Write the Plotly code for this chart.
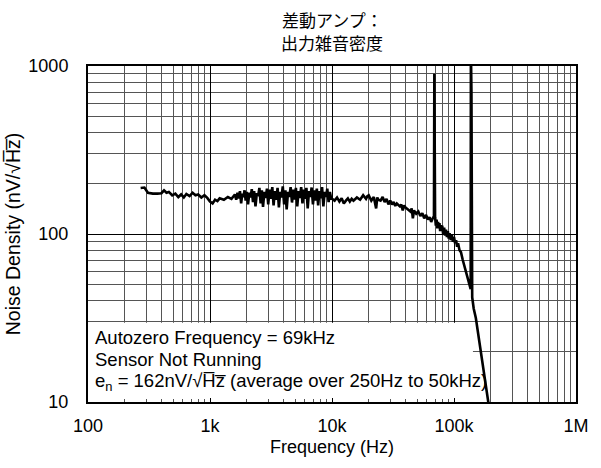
import plotly.graph_objects as go

# Output-referred noise density of the differential amplifier (autozero at 69 kHz),
# split into frequency bands so each stretch of the sweep is easy to edit.

# 270 Hz - 1.5 kHz: low-frequency shelf
freq_low = [270, 290, 310, 340, 370, 400, 420, 440, 460, 490, 520, 550, 580, 610, 640,
            680, 720, 760, 800, 850, 900, 950, 1000, 1050, 1100, 1150, 1200, 1300, 1400, 1500]
noise_low = [188, 189, 176, 174, 174, 175, 182, 176, 178, 170, 174, 166, 172, 165, 173,
             168, 176, 170, 172, 165, 170, 164, 156, 152, 160, 157, 163, 160, 166, 162]

# 1.6 kHz - 10 kHz: densely spiky band
freq_band = [1600, 1640, 1680, 1720, 1760, 1800, 1840, 1880, 1920, 1960,
             2000, 2050, 2100, 2150, 2200, 2250, 2300, 2360, 2420, 2480,
             2540, 2600, 2660, 2720, 2790, 2860, 2930, 3000, 3080, 3160,
             3240, 3320, 3400, 3490, 3580, 3670, 3760, 3850, 3950, 4050,
             4150, 4250, 4360, 4470, 4580, 4700, 4820, 4940, 5060, 5190,
             5320, 5450, 5590, 5730, 5870, 6020, 6170, 6320, 6480, 6640,
             6810, 6980, 7150, 7330, 7510, 7700, 7890, 8090, 8290, 8500,
             8710, 8930, 9150, 9380, 9610, 9850]
noise_band = [172, 160, 176, 163, 180, 152, 174, 166, 182, 158,
              178, 150, 176, 165, 185, 155, 180, 146, 175, 168,
              188, 152, 182, 145, 178, 164, 186, 150, 184, 162,
              190, 148, 180, 160, 188, 144, 178, 165, 192, 150,
              182, 140, 178, 166, 190, 154, 184, 160, 188, 146,
              180, 164, 190, 152, 184, 162, 188, 142, 180, 166,
              189, 150, 182, 158, 186, 148, 180, 163, 190, 146,
              178, 166, 186, 155, 178, 162]

# 10 kHz - 69.5 kHz: gentle roll-off and the autozero spur at 69 kHz
freq_mid = [10000, 10500, 11000, 11500, 12000, 12500, 13000, 13500, 14000, 14500,
            15000, 16000, 17000, 18000, 19000, 19500, 20000, 21000, 22000, 23000,
            23500, 24000, 25000, 26000, 27000, 28000, 29000, 30000, 31000, 32000,
            33000, 34000, 36000, 37000, 38000, 39000, 40000, 42000, 44000, 45000,
            46000, 47000, 49000, 51000, 53000, 55000, 57000, 59000, 61000, 63000,
            65000, 67000, 68500, 69000, 69500]
noise_mid = [162, 158, 165, 156, 163, 152, 158, 163, 156, 162,
             158, 165, 160, 170, 162, 168, 170, 158, 166, 142,
             165, 160, 158, 166, 155, 162, 150, 158, 150, 155,
             147, 152, 146, 150, 138, 148, 144, 140, 136, 142,
             124, 138, 132, 136, 128, 133, 124, 130, 122, 126,
             118, 124, 128, 900, 130]

# 70 kHz - 196 kHz: steep roll-off with the 138 kHz spur
freq_high = [70000, 71000, 72000, 73000, 74000, 75000, 76000, 77000, 78000, 79000,
             80000, 81500, 83000, 84500, 86000, 87500, 89000, 90500, 92000, 94000,
             96000, 98000, 100000, 102000, 104000, 106000, 108000, 111000, 114000, 118000,
             122000, 126000, 130000, 134000, 137000, 137500, 139000, 141000, 145000, 151000,
             160000, 170000, 180000, 190000, 196000]
noise_high = [126, 112, 122, 108, 118, 110, 116, 104, 113, 106,
              112, 100, 109, 98, 106, 96, 104, 94, 101, 92,
              99, 90, 96, 88, 92, 84, 88, 80, 78, 70,
              64, 58, 54, 50, 47, 1300, 700, 42, 36, 31.6,
              23.7, 17.5, 13.2, 10.0, 8.8]

freq_hz = freq_low + freq_band + freq_mid + freq_high
noise_nv = noise_low + noise_band + noise_mid + noise_high
assert len(freq_hz) == len(noise_nv)

# Corners of the notes panel (Hz, nV/rtHz)
panel_x = [100, 143000]
panel_y = [10, 29.6]

title_lines = ["差動アンプ：", "出力雑音密度"]
note_lines = [
    "Autozero Frequency = 69kHz",
    "Sensor Not Running",
    "e<sub>n</sub> = 162nV/\u221aH\u0305z\u0305 (average over 250Hz to 50kHz)",
]

LATIN = "Liberation Sans, Arial, sans-serif"
CJK = "Noto Sans CJK JP"

fig = go.Figure()

# White panel behind the notes: a filled trace sits above the grid, below the curve
fig.add_trace(go.Scatter(
    x=[panel_x[0], panel_x[1], panel_x[1], panel_x[0], panel_x[0]],
    y=[panel_y[0], panel_y[0], panel_y[1], panel_y[1], panel_y[0]],
    mode="lines", fill="toself", fillcolor="white",
    line=dict(width=0, color="white"), showlegend=False, hoverinfo="skip",
))

fig.add_trace(go.Scatter(
    x=freq_hz, y=noise_nv, mode="lines",
    line=dict(color="black", width=2.6),
    showlegend=False, hoverinfo="skip",
))

grid_common = dict(
    type="log",
    showline=True, linecolor="black", linewidth=2, mirror=True,
    showgrid=True, gridcolor="black", gridwidth=1,
    tickfont=dict(family=LATIN, size=18, color="black"),
    zeroline=False,
)

fig.update_xaxes(
    **grid_common,
    range=[2, 6], dtick=1, tickformat="~s",
    ticks="inside", ticklen=4, tickcolor="black",
    ticklabelstandoff=6,
    minor=dict(showgrid=True, gridcolor="#555555", gridwidth=1,
               ticks="inside", ticklen=3, tickcolor="#555555"),
    title=dict(text="Frequency (Hz)", font=dict(family=LATIN, size=18, color="black"),
               standoff=6),
)
fig.update_yaxes(
    **grid_common,
    range=[1, 3], dtick=1, tickformat="d",
    ticks="outside", ticklen=14, tickcolor="rgba(0,0,0,0)",
    minor=dict(showgrid=True, gridcolor="#555555", gridwidth=1),
    title=dict(text="Noise Density (nV/\u221aH\u0305z\u0305)",
               font=dict(family=LATIN, size=19.5, color="black"), standoff=3),
)

for i, txt in enumerate(note_lines):
    fig.add_annotation(
        xref="paper", yref="paper", x=0.01, y=0.193 - i * 0.067,
        xanchor="left", yanchor="middle", text=txt, showarrow=False,
        font=dict(family=LATIN, size=18.5, color="black"),
    )

for i, txt in enumerate(title_lines):
    fig.add_annotation(
        xref="paper", yref="paper", x=0.5, y=1.137 - i * 0.068,
        xanchor="center", yanchor="middle", text=txt, showarrow=False,
        font=dict(family=CJK, size=17, color="black"),
    )

fig.update_layout(
    width=601, height=468,
    margin=dict(l=88, r=16, t=66, b=66),
    paper_bgcolor="white", plot_bgcolor="white",
)

fig.write_html("out.html")
